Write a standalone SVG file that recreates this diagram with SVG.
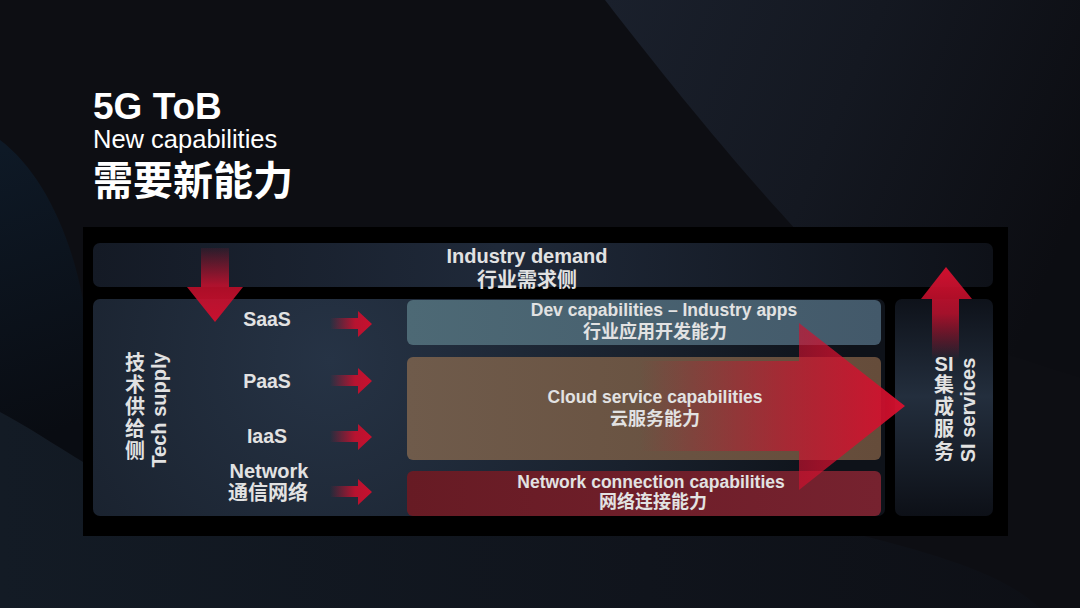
<svg xmlns="http://www.w3.org/2000/svg" width="1080" height="608" viewBox="0 0 1080 608">
<defs>
<style>
.lbl{font-family:"Liberation Sans","Noto Sans CJK SC",sans-serif;font-weight:700;fill:#e2e2e2;text-anchor:middle}
.cjk{font-family:"Liberation Sans","Noto Sans CJK SC",sans-serif;font-weight:700;fill:#e2e2e2;text-anchor:middle}
.title{font-family:"Liberation Sans","Noto Sans CJK SC",sans-serif;fill:#ffffff}
</style>
<linearGradient id="bgNavy" x1="605" y1="0" x2="1080" y2="200" gradientUnits="userSpaceOnUse">
<stop offset="0" stop-color="#1a202c"/><stop offset="0.5" stop-color="#141821"/><stop offset="1" stop-color="#0c0d12"/>
</linearGradient>
<linearGradient id="bgLeft" x1="0" y1="150" x2="90" y2="420" gradientUnits="userSpaceOnUse">
<stop offset="0" stop-color="#0e1926"/><stop offset="1" stop-color="#090c12"/>
</linearGradient>
<linearGradient id="bgBottom" x1="0" y1="0" x2="1080" y2="0" gradientUnits="userSpaceOnUse">
<stop offset="0" stop-color="#131b25"/><stop offset="0.6" stop-color="#10141c"/><stop offset="1" stop-color="#0d0f15"/>
</linearGradient>
<linearGradient id="gDemand" x1="0" y1="0" x2="1" y2="0">
<stop offset="0" stop-color="#141a25"/><stop offset="0.45" stop-color="#1f2939"/><stop offset="1" stop-color="#0e1118"/>
</linearGradient>
<radialGradient id="gSupply" cx="330" cy="360" r="520" gradientUnits="userSpaceOnUse">
<stop offset="0" stop-color="#263345"/><stop offset="0.6" stop-color="#19212d"/><stop offset="1" stop-color="#0e1219"/>
</radialGradient>
<linearGradient id="gSI" x1="0" y1="0" x2="0" y2="1">
<stop offset="0" stop-color="#0e121a"/><stop offset="0.45" stop-color="#232e3d"/><stop offset="1" stop-color="#0d1017"/>
</linearGradient>
<linearGradient id="gDev" x1="0" y1="0" x2="1" y2="0">
<stop offset="0" stop-color="#4d6975"/><stop offset="1" stop-color="#43596a"/>
</linearGradient>
<linearGradient id="gCloud" x1="0" y1="0" x2="1" y2="0">
<stop offset="0" stop-color="#6f5b4b"/><stop offset="1" stop-color="#654c3a"/>
</linearGradient>
<linearGradient id="gNet" x1="0" y1="0" x2="1" y2="0">
<stop offset="0" stop-color="#671b24"/><stop offset="1" stop-color="#76222f"/>
</linearGradient>
<linearGradient id="gBig" x1="640" y1="0" x2="905" y2="0" gradientUnits="userSpaceOnUse">
<stop offset="0" stop-color="#d0102e" stop-opacity="0"/><stop offset="0.55" stop-color="#d0102e" stop-opacity="0.6"/><stop offset="1" stop-color="#d6102e" stop-opacity="0.97"/>
</linearGradient>
<linearGradient id="gSmall" x1="0" y1="0" x2="1" y2="0">
<stop offset="0" stop-color="#c8102e" stop-opacity="0"/><stop offset="0.6" stop-color="#c8102e" stop-opacity="0.9"/><stop offset="1" stop-color="#c8102e"/>
</linearGradient>
<linearGradient id="gDown" x1="0" y1="248" x2="0" y2="322" gradientUnits="userSpaceOnUse">
<stop offset="0" stop-color="#c8102e" stop-opacity="0.1"/><stop offset="0.5" stop-color="#c8102e" stop-opacity="0.85"/><stop offset="1" stop-color="#c8102e"/>
</linearGradient>
<linearGradient id="gUp" x1="0" y1="360" x2="0" y2="267" gradientUnits="userSpaceOnUse">
<stop offset="0" stop-color="#c8102e" stop-opacity="0"/><stop offset="0.5" stop-color="#c8102e" stop-opacity="0.8"/><stop offset="1" stop-color="#d0102e"/>
</linearGradient>
</defs>

<!-- background -->
<rect x="0" y="0" width="1080" height="608" fill="#0d0e13"/>
<path d="M605,0 C690,110 750,180 800,234 L1008,355 L1080,378 L1080,0 Z" fill="url(#bgNavy)"/>
<path d="M0,140 C40,170 70,230 83,300 L83,462 C55,445 25,425 0,412 Z" fill="url(#bgLeft)"/>
<path d="M0,412 C25,425 55,445 83,462 L83,536 L864,536 C960,560 1010,580 1040,608 L0,608 Z" fill="url(#bgBottom)"/>

<g id="title">
<text class="title" x="93" y="119" font-size="37" font-weight="700">5G ToB</text>
<text class="title" x="93" y="148" font-size="25.5">New capabilities</text>
<text class="title" x="93" y="195" font-size="40" font-weight="700">需要新能力</text>
</g>

<rect id="panel" x="83" y="227" width="925" height="309" fill="#000"/>

<g id="industry-demand">
<rect x="93" y="243" width="900" height="44" rx="7" fill="url(#gDemand)"/>
</g>
<g id="tech-supply">
<rect x="93" y="299" width="792" height="217" rx="7" fill="url(#gSupply)"/>
</g>
<g id="si-services">
<rect x="895" y="299" width="98" height="217" rx="7" fill="url(#gSI)"/>
</g>
<g id="dev-cap">
<rect x="407" y="300" width="474" height="45" rx="6" fill="url(#gDev)"/>
</g>
<g id="cloud-cap">
<rect x="407" y="357" width="474" height="103" rx="6" fill="url(#gCloud)"/>
</g>
<g id="net-cap">
<rect x="407" y="471" width="474" height="45" rx="6" fill="url(#gNet)"/>
</g>

<g id="connectors">
<path d="M640,361 L799,361 L799,323 L905,406 L799,490 L799,451 L640,451 Z" fill="url(#gBig)"/>
<path d="M201,248 L229,248 L229,287 L243,287 L215,322 L187,287 L201,287 Z" fill="url(#gDown)"/>
<path d="M932,360 L932,299 L921,299 L946,267 L972,299 L959,299 L959,360 Z" fill="url(#gUp)"/>
<path d="M330,318 L358,318 L358,311 L372,324 L358,337 L358,329 L330,329 Z" fill="url(#gSmall)"/>
<path d="M330,375 L358,375 L358,368 L372,381 L358,394 L358,386 L330,386 Z" fill="url(#gSmall)"/>
<path d="M330,431 L358,431 L358,424 L372,437 L358,450 L358,442 L330,442 Z" fill="url(#gSmall)"/>
<path d="M330,486 L358,486 L358,479 L372,492 L358,505 L358,497 L330,497 Z" fill="url(#gSmall)"/>
</g>

<g id="texts">
<text class="lbl" x="527" y="263" font-size="20">Industry demand</text>
<text class="cjk" x="527" y="287" font-size="20">行业需求侧</text>

<text class="lbl" x="664" y="316" font-size="17.5">Dev capabilities – Industry apps</text>
<text class="cjk" x="655" y="338" font-size="18">行业应用开发能力</text>

<text class="lbl" x="655" y="403" font-size="17.5">Cloud service capabilities</text>
<text class="cjk" x="655" y="425" font-size="18">云服务能力</text>

<text class="lbl" x="651" y="488" font-size="17.5">Network connection capabilities</text>
<text class="cjk" x="653" y="508" font-size="18">网络连接能力</text>

<text class="lbl" x="267" y="326" font-size="19.5">SaaS</text>
<text class="lbl" x="267" y="388" font-size="19.5">PaaS</text>
<text class="lbl" x="267" y="443" font-size="19.5">IaaS</text>
<text class="lbl" x="269" y="478" font-size="20">Network</text>
<text class="cjk" x="268" y="500" font-size="20">通信网络</text>

<text class="cjk" x="135" y="370" font-size="20">技</text>
<text class="cjk" x="135" y="392" font-size="20">术</text>
<text class="cjk" x="135" y="414" font-size="20">供</text>
<text class="cjk" x="135" y="436" font-size="20">给</text>
<text class="cjk" x="135" y="458" font-size="20">侧</text>
<text class="lbl" transform="translate(166,410) rotate(-90)" font-size="20">Tech supply</text>

<text class="lbl" x="944" y="371" font-size="20">SI</text>
<text class="cjk" x="944" y="392" font-size="20">集</text>
<text class="cjk" x="944" y="414" font-size="20">成</text>
<text class="cjk" x="944" y="436" font-size="20">服</text>
<text class="cjk" x="944" y="459" font-size="20">务</text>
<text class="lbl" transform="translate(975,410) rotate(-90)" font-size="20">SI services</text>
</g>
</svg>
